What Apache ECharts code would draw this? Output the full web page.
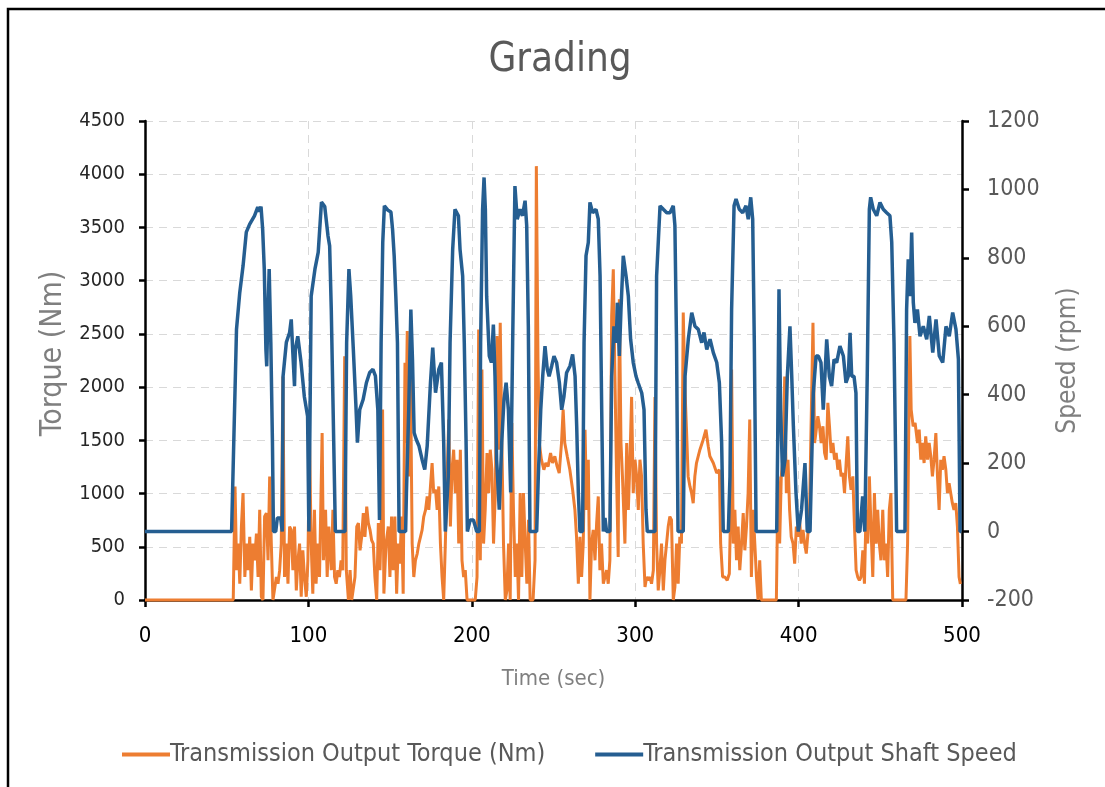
<!DOCTYPE html>
<html>
<head>
<meta charset="utf-8">
<script src="https://cdn.jsdelivr.net/npm/echarts@6/dist/echarts.min.js"></script>
<style>
html,body{margin:0;padding:0;background:#fff;}
#chart{width:1105px;height:787px;}
</style>
</head>
<body>
<div id="chart"></div>
<script>
// ---- Data ----
const torqueTime = [0,54,55.1,56.1,57.1,58,59,60,61.1,62.1,63.1,64.1,65.1,66.1,67.1,68.2,69.2,70.2,71.2,72.2,73.2,74.3,75.3,76.3,77.3,78.3,79.3,80.4,81.4,82.4,83.4,84.4,85.4,86.5,87.5,88.5,89.5,90.5,91.5,92.6,93.6,94.6,95.6,96.6,97.6,98.7,99.7,100.7,101.7,102.7,103.7,104.7,105.8,106.8,108.4,109.2,110.5,111.5,112.5,114,115,116,117,118,119,120,121,122.2,123.2,124.5,125.5,126.5,127.5,128.5,
129.6,130.6,131.6,132.6,133.6,134.6,135.7,136.7,137.7,138.7,139.7,140.7,141.8,142.8,143.8,144.8,145.4,146.2,147.5,148.9,149.9,150.9,151.9,152.9,154,155,156,157,158,159.1,159.6,160.5,161.5,162.5,163.5,164.5,165.5,166.6,167.6,168.6,169.6,170.6,171.7,172.7,173.7,174.7,175.7,176.7,177.8,178.8,179.8,180.8,181.8,182.8,183.8,184.9,185.9,186.9,187.9,188.9,189.9,191,192,193,194,195,196,197.1,202.1,203.2,204.2,205.2,206.2,207.2,208.2,209.3,210.3,211.3,212.3,213.3,214.4,215.4,216.4,217.4,218.4,219.4,220.5,221.5,222.5,223.5,224.5,225.5,226.6,227.6,228.6,229.6,230.6,231.6,232.7,233.7,234.7,235.7,237.5,238.7,239.5,240.5,241.3,242.6,244.1,245.3,246.7,248.2,249.4,250.8,252.2,253.5,254.9,255.9,256.9,258.4,260,261.7,263.1,264.1,265.2,266.2,267.2,268.2,269.3,270.3,271.3,272.3,273.3,274.3,275.4,276.4,277.4,278.4,279.4,280.5,281.5,282.5,283.5,284.5,285.6,286.6,287.6,288.6,289.6,290.3,291.3,292.2,293.7,294.8,295.8,296.8,297.8,298.8,299.9,300.9,301.9,302.9,303.9,304.9,306,307,308,309,310,311.1,312.1,313.1,314.1,315.1,316.1,317.2,318.2,319.2,320.2,321.2,322.2,323.3,324.3,325.3,326.3,327.3,328.3,329.4,330.4,331.4,332.4,333.5,334.5,335.5,336.5,337.5,339.6,341.6,343.3,344.7,345.7,347.8,349.9,351.5,352.3,353.5,354.9,356.3,357.6,358.4,359,360,361,362,363,364,365.1,366.1,367.1,368.1,369.1,370.1,371.1,372.2,373.2,374.2,375.2,376.2,377.2,386.4,387.4,388.4,389.4,390.4,391.5,392.5,393.5,394.5,395.5,396.6,397.6,398.6,399.6,400.6,401.6,402.7,403.7,404.7,405.7,406.7,407.7,408.8,409.8,410.8,411.8,412.8,413.8,414.9,415.9,416.9,417.9,418.9,419.9,421,422,423,424,425,426,427.1,428.1,429.1,430.1,431.1,432.1,433.2,434.2,435.2,436.2,437.2,438.2,439.3,440.3,441.3,442.3,443.3,444.3,445.4,446.4,447.4,448.4,449.4,450.4,451.5,452.5,453.5,454.5,455.5,456.5,457.6,465.7,466.7,467.3,468.1,468.9,470.1,471.3,472.8,473.8,474.8,475.8,476.8,477.8,478.9,479.9,480.9,481.9,482.9,484,485,486,487,488,489,490.1,491.1,492.1,493.1,494.1,495.1,496.2,497.2,498.2,499];
const torqueValues = [0,0,1067,280,530,153,690,1004,216,530,280,593,90,530,373,624,216,847,30,0,784,816,373,1161,530,0,0,216,153,280,530,2099,216,530,153,690,659,280,690,90,373,530,30,467,216,30,373,1475,530,60,847,153,530,216,1569,373,847,216,690,280,847,216,153,280,216,373,280,2290,280,0,280,0,0,216,
690,722,467,593,816,593,878,722,659,561,530,216,0,722,280,847,1789,60,530,690,216,784,280,784,60,530,341,784,60,2228,1475,2526,1161,2099,530,216,373,436,530,593,659,784,847,973,847,1067,1287,1004,1036,847,1067,530,216,0,530,1161,1695,690,1224,1412,1004,1318,530,1412,373,216,280,0,0,216,2542,373,2165,530,847,1381,1004,1412,1224,530,1004,2479,1412,2605,1475,530,0,90,530,0,1663,847,216,530,0,1004,216,1004,530,153,753,0,0,373,4076,2260,1475,1318,1224,1287,1255,1381,1287,1350,1255,1193,1475,1789,1475,1350,1224,1036,847,593,153,593,216,530,1600,847,1318,0,530,659,373,722,973,280,530,153,216,280,153,373,2668,3107,2099,1161,404,2825,1475,1161,530,1475,847,1318,1908,1004,1318,1161,847,1318,1161,530,122,216,185,216,153,280,1908,530,90,280,530,90,373,530,690,784,753,0,122,530,153,593,530,2700,2000,1600,1161,1067,1004,910,1161,1287,1412,1506,1600,1444,1350,1287,1193,1224,530,216,216,185,247,847,2165,530,847,373,690,280,530,816,467,690,1004,1695,216,847,530,216,0,373,0,0,1161,530,1161,1318,2099,1004,1318,847,593,530,341,690,593,753,530,659,530,436,624,847,847,2605,1475,1475,1726,1632,1475,1632,1381,1318,1852,1632,1381,1475,1318,1381,1224,1318,1161,1193,1004,1287,1538,1161,1036,1161,690,280,216,185,216,467,153,847,530,1161,690,216,1004,530,847,530,373,847,373,530,216,847,1004,0,0,530,1475,2479,1789,1632,1663,1475,1600,1318,1475,1287,1538,1318,1475,1350,1161,1318,1569,1161,847,1318,1224,1350,1224,1004,1098,1004,910,847,910,690,216,150];

const speedTime = [0,53,56,58,60,62,64,67,69,70,71,72,73,74,74.5,75,76,77,78,78.6,80,81,83,84,84.5,86.5,88.5,89.5,90.5,91.5,92,93.5,95.5,97.5,99.5,100.3,101.7,104,106,108,109,110,112,113,114,115.5,116.5,122.4,123.4,124.8,125.9,127.5,129,130,131.4,133.5,135.5,137.5,139.5,141,142.5,143.5,144.5,145.5,146.5,148.5,150.5,151.5,152.5,153.5,154.5,155.5,159.5,160,161.4,162.7,163.7,164.7,166,167.7,169.6,171.2,172.7,174.7,176.1,177.8,179.8,181.4,182.8,183.8,185.6,186.7,188.3,189.7,191.8,192.8,194.4,195.4,196.5,197.3,199,201,203,204.6,205.4,206.6,207.5,208.3,209.1,210.7,212,213.2,214.2,215.2,216.8,218.3,219.7,221,222.4,223.8,225,226.4,227.8,229.5,231,232.6,233.6,234.6,235.6,239.7,240.7,242.2,243.4,244.8,246.2,247.3,248.9,250.3,251.9,253.6,255,256.4,258,260.1,261.7,263.2,264.2,265.2,266.2,267.8,268.7,269.9,271.3,272.3,274,276,277.4,278.5,279.5,280.5,281.5,282.5,284.5,285.6,287,288.4,289.1,290.3,291.3,292.7,294.4,295.8,297.2,298.8,300.5,301.8,304,305.4,306.6,307.4,312.1,313.1,314.2,315.2,317.2,319.3,321.3,323.3,324.3,325.3,326.2,329.4,330.5,332.5,334.6,336.6,338.6,340.7,342.1,343.8,345.8,347.8,349.9,351.5,352.9,353.9,357,358,359,360.5,361.7,363.7,365.8,367.8,369.2,370.7,371.9,372.9,374,386.6,387.2,388,389,390.2,391.7,393.1,394.7,395.8,396.8,398.4,399.8,401.8,403.9,405.3,407,409,410.7,412.1,413.7,415.1,417.2,418.8,420.2,421.7,423.3,425.3,427.4,429,430.4,431.5,432.5,433.9,435.1,436,437.5,439.2,440.5,442,443.3,444.1,445.7,447.8,449.8,451.8,453.9,455.9,457,458.4,460,465.1,466.1,467.1,468.2,469.2,470.2,471.2,472.7,474.3,476.3,478.4,480,482.1,484.1,486.1,488.2,490.2,492.2,494.3,496.3,497.8,498.8,499.5];
const speedValues = [0,0,591,699,776,875,898,923,948,935,950,884,767,532,483,591,767,553,260,0,0,40,40,0,454,553,582,620,520,425,532,571,494,395,337,0,688,767,816,963,958,950,864,835,649,260,0,0,552,767,688,532,377,260,356,386,435,465,474,455,356,34,552,845,952,940,934,884,806,688,552,0,0,114,356,649,503,289,269,250,210,181,250,435,538,406,474,494,260,0,161,552,825,942,923,825,747,552,260,0,34,34,0,0,552,942,1035,942,688,513,494,605,454,210,64,259,386,435,356,114,552,1010,913,942,923,967,894,600,0,0,161,356,454,542,474,454,484,513,494,435,356,395,464,484,518,454,308,114,0,0,552,806,845,962,932,942,913,747,356,0,40,0,0,454,600,552,669,513,649,806,747,688,562,494,454,435,405,356,64,0,0,747,854,952,942,932,932,952,894,552,0,0,454,562,640,600,591,552,582,532,562,523,494,435,260,0,0,161,649,952,972,942,932,952,913,977,913,552,0,0,260,708,356,161,210,454,600,454,308,114,0,64,200,0,0,405,513,513,494,356,562,454,425,503,494,542,513,435,454,581,454,454,405,0,0,103,0,454,942,977,942,923,962,942,932,923,845,552,0,0,649,796,688,874,669,610,649,571,600,562,630,523,620,513,494,600,571,640,591,503,0,0];

const seriesNames = ['Transmission Output Torque (Nm)', 'Transmission Output Shaft Speed'];
const titleText = 'Grading';
const xName = 'Time (sec)', yLeftName = 'Torque (Nm)', yRightName = 'Speed (rpm)';

const FONT = "'DejaVu Sans Condensed', 'DejaVu Sans', sans-serif";
const chart = echarts.init(document.getElementById('chart'), null, {renderer: 'canvas'});
const torqueData = torqueTime.map((t, i) => [t, torqueValues[i]]);
const speedData = speedTime.map((t, i) => [t, speedValues[i]]);
const plain = v => String(v);

chart.setOption({
  backgroundColor: '#fff',
  animation: false,
  textStyle: {fontFamily: FONT},
  graphic: [
    {type: 'rect', shape: {x: 8, y: 9, width: 1200, height: 900}, style: {fill: 'none', stroke: '#000', lineWidth: 2.5}, z: 100, silent: true},
    {type: 'text', x: 560, y: 61, style: {text: titleText, fill: '#595959', font: '40px ' + FONT, textAlign: 'center', textVerticalAlign: 'middle'}}
  ],
  legend: {
    left: 117, top: 737,
    itemWidth: 48, itemHeight: 4, itemGap: 50,
    icon: 'rect',
    textStyle: {fontFamily: FONT, fontSize: 25, color: '#595959', padding: [0, 0, 0, -5]},
    data: seriesNames
  },
  grid: {left: 145, top: 121, width: 817, height: 479, containLabel: false},
  xAxis: {
    type: 'value', min: 0, max: 500, interval: 100,
    name: xName, nameLocation: 'middle', nameGap: 68,
    nameTextStyle: {fontFamily: FONT, fontSize: 22, color: '#7f7f7f'},
    axisLine: {show: true, lineStyle: {color: '#000', width: 2.5}},
    axisTick: {show: true, length: 7, lineStyle: {color: '#000', width: 2.5}},
    axisLabel: {fontFamily: FONT, fontSize: 22, color: '#000', margin: 25, formatter: plain},
    splitLine: {show: true, lineStyle: {color: '#d9d9d9', type: [8, 6], width: 1}}
  },
  yAxis: [
    {
      type: 'value', min: 0, max: 4500, interval: 500, position: 'left',
      name: yLeftName, nameLocation: 'middle', nameGap: 74, nameRotate: 90,
      nameTextStyle: {fontFamily: FONT, fontSize: 30, color: '#7f7f7f', padding: [0, 0, 0, 14]},
      axisLine: {show: true, lineStyle: {color: '#000', width: 2.5}},
      axisTick: {show: true, length: 6, lineStyle: {color: '#000', width: 2.5}},
      axisLabel: {fontFamily: FONT, fontSize: 20, color: '#262626', margin: 20, formatter: plain},
      splitLine: {show: true, lineStyle: {color: '#d9d9d9', type: [8, 6], width: 1}}
    },
    {
      type: 'value', min: -200, max: 1200, interval: 200, position: 'right',
      name: yRightName, nameLocation: 'middle', nameGap: 93, nameRotate: 90,
      nameTextStyle: {fontFamily: FONT, fontSize: 26, color: '#7f7f7f'},
      axisLine: {show: true, lineStyle: {color: '#000', width: 2.5}},
      axisTick: {show: true, length: 7, lineStyle: {color: '#000', width: 2.5}},
      axisLabel: {fontFamily: FONT, fontSize: 23, color: '#595959', margin: 25, formatter: plain},
      splitLine: {show: false}
    }
  ],
  series: [
    {
      name: seriesNames[0], type: 'line', yAxisIndex: 0, data: torqueData,
      showSymbol: false, symbol: 'none', clip: false,
      lineStyle: {color: '#ED7D31', width: 3}, itemStyle: {color: '#ED7D31'}
    },
    {
      name: seriesNames[1], type: 'line', yAxisIndex: 1, data: speedData,
      showSymbol: false, symbol: 'none', clip: false,
      lineStyle: {color: '#255E91', width: 3.5}, itemStyle: {color: '#255E91'}
    }
  ]
});
</script>
</body>
</html>
